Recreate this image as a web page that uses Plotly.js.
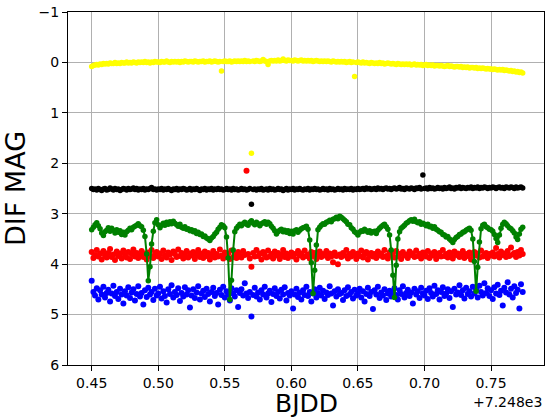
<!DOCTYPE html>
<html>
<head>
<meta charset="utf-8">
<script src="https://cdn.plot.ly/plotly-3.0.1.min.js"></script>
<style>html,body{margin:0;padding:0;background:#fff;}#chart{width:545px;height:417px;}</style>
</head>
<body>
<div id="chart"></div>
<script>
// BJDD minus offset (offset shown as +7.248e3)
const bjdOffsetLabel = "+7.248e3";
const xTitle = "BJDD";
const yTitle = "DIF MAG";
const bjdd = [
0.4500,0.4513,0.4525,0.4538,0.4550,0.4563,0.4575,0.4588,0.4600,0.4613,
0.4625,0.4638,0.4650,0.4663,0.4675,0.4688,0.4700,0.4713,0.4725,0.4738,
0.4750,0.4763,0.4775,0.4788,0.4800,0.4813,0.4825,0.4838,0.4850,0.4863,
0.4875,0.4888,0.4900,0.4913,0.4925,0.4938,0.4950,0.4963,0.4975,0.4988,
0.5000,0.5013,0.5025,0.5038,0.5050,0.5063,0.5075,0.5088,0.5100,0.5113,
0.5125,0.5138,0.5150,0.5163,0.5175,0.5188,0.5200,0.5213,0.5225,0.5238,
0.5250,0.5263,0.5275,0.5288,0.5300,0.5313,0.5325,0.5338,0.5350,0.5363,
0.5375,0.5388,0.5400,0.5413,0.5425,0.5438,0.5450,0.5463,0.5475,0.5488,
0.5500,0.5513,0.5525,0.5538,0.5550,0.5563,0.5575,0.5588,0.5600,0.5613,
0.5625,0.5638,0.5650,0.5663,0.5675,0.5688,0.5700,0.5713,0.5725,0.5738,
0.5750,0.5763,0.5775,0.5788,0.5800,0.5813,0.5825,0.5838,0.5850,0.5863,
0.5875,0.5888,0.5900,0.5913,0.5925,0.5938,0.5950,0.5963,0.5975,0.5988,
0.6000,0.6013,0.6025,0.6038,0.6050,0.6063,0.6075,0.6088,0.6100,0.6113,
0.6125,0.6138,0.6150,0.6163,0.6175,0.6188,0.6200,0.6213,0.6225,0.6238,
0.6250,0.6263,0.6275,0.6288,0.6300,0.6313,0.6325,0.6338,0.6350,0.6363,
0.6375,0.6388,0.6400,0.6413,0.6425,0.6438,0.6450,0.6463,0.6475,0.6488,
0.6500,0.6513,0.6525,0.6538,0.6550,0.6563,0.6575,0.6588,0.6600,0.6613,
0.6625,0.6638,0.6650,0.6663,0.6675,0.6688,0.6700,0.6713,0.6725,0.6738,
0.6750,0.6763,0.6775,0.6788,0.6800,0.6813,0.6825,0.6838,0.6850,0.6863,
0.6875,0.6888,0.6900,0.6913,0.6925,0.6938,0.6950,0.6963,0.6975,0.6988,
0.7000,0.7013,0.7025,0.7038,0.7050,0.7063,0.7075,0.7088,0.7100,0.7113,
0.7125,0.7138,0.7150,0.7163,0.7175,0.7188,0.7200,0.7213,0.7225,0.7238,
0.7250,0.7263,0.7275,0.7288,0.7300,0.7313,0.7325,0.7338,0.7350,0.7363,
0.7375,0.7388,0.7400,0.7413,0.7425,0.7438,0.7450,0.7463,0.7475,0.7488,
0.7500,0.7513,0.7525,0.7538,0.7550,0.7563,0.7575,0.7588,0.7600,0.7613,
0.7625,0.7638,0.7650,0.7663,0.7675,0.7688,0.7700,0.7713,0.7725,0.7738
];

const magYellow = [
0.08,0.06,0.05,0.04,0.05,0.03,0.04,0.02,0.03,0.02,
0.03,0.01,0.02,0.02,0.00,0.02,0.01,0.02,0.00,0.01,
0.01,-0.01,0.01,0.00,0.01,-0.01,0.00,0.01,-0.01,0.00,
-0.01,0.00,-0.02,0.00,-0.01,0.01,-0.01,0.00,-0.02,-0.01,
-0.01,0.00,-0.02,-0.01,-0.01,-0.03,-0.01,0.00,-0.02,-0.01,
-0.02,-0.01,-0.02,0.00,-0.02,-0.01,-0.03,-0.02,-0.01,-0.02,
-0.02,-0.01,-0.03,-0.02,-0.01,-0.02,-0.02,-0.03,-0.01,-0.02,
-0.02,-0.03,-0.01,-0.02,-0.03,-0.02,-0.01,-0.02,0.17,-0.02,
-0.03,-0.02,-0.02,-0.03,-0.01,-0.02,-0.03,-0.02,-0.03,-0.02,
-0.03,-0.02,-0.04,-0.02,-0.03,-0.02,1.80,-0.03,-0.02,-0.04,
-0.03,-0.02,-0.03,-0.06,-0.03,-0.02,0.04,-0.03,-0.04,-0.03,
-0.04,-0.03,-0.05,-0.03,-0.04,-0.07,-0.04,-0.03,-0.05,-0.04,
-0.04,-0.03,-0.05,-0.04,-0.03,-0.04,-0.05,-0.03,-0.04,-0.03,
-0.04,-0.03,-0.04,-0.02,-0.03,-0.04,-0.03,-0.02,-0.03,-0.02,
-0.03,-0.02,-0.03,-0.02,-0.01,-0.03,-0.02,-0.01,-0.02,-0.01,
-0.02,-0.01,-0.02,0.00,-0.01,-0.02,0.00,-0.01,0.28,0.00,
-0.01,0.00,0.01,-0.01,0.01,0.00,0.01,0.02,0.00,0.01,
0.02,0.01,0.02,0.00,0.02,0.01,0.03,0.02,0.01,0.02,
0.03,0.02,0.03,0.04,0.02,0.03,0.04,0.03,0.04,0.03,
0.04,0.03,0.05,0.04,0.03,0.05,0.04,0.05,0.04,0.06,
0.05,0.04,0.06,0.05,0.06,0.05,0.07,0.06,0.06,0.07,
0.06,0.07,0.08,0.07,0.06,0.08,0.07,0.08,0.09,0.08,
0.08,0.09,0.08,0.10,0.09,0.10,0.09,0.11,0.10,0.10,
0.11,0.10,0.12,0.11,0.12,0.11,0.12,0.13,0.12,0.13,
0.13,0.14,0.13,0.14,0.15,0.14,0.15,0.14,0.16,0.15,
0.16,0.17,0.16,0.18,0.17,0.19,0.18,0.20,0.19,0.21
];

const magBlack = [
2.50,2.52,2.51,2.53,2.50,2.52,2.54,2.51,2.50,2.53,
2.52,2.49,2.51,2.53,2.50,2.52,2.51,2.54,2.52,2.50,
2.51,2.53,2.50,2.52,2.51,2.49,2.52,2.50,2.53,2.51,
2.52,2.50,2.53,2.51,2.52,2.50,2.48,2.52,2.51,2.53,
2.51,2.52,2.50,2.53,2.51,2.52,2.50,2.52,2.54,2.51,
2.52,2.50,2.53,2.51,2.52,2.50,2.51,2.53,2.52,2.50,
2.53,2.51,2.52,2.50,2.52,2.54,2.51,2.52,2.50,2.53,
2.51,2.52,2.50,2.53,2.51,2.52,2.50,2.52,2.51,2.53,
2.52,2.50,2.52,2.51,2.53,2.50,2.52,2.51,2.53,2.52,
2.50,2.52,2.51,2.53,2.52,2.50,2.81,2.52,2.51,2.53,
2.51,2.52,2.50,2.53,2.52,2.51,2.53,2.50,2.52,2.51,
2.53,2.52,2.50,2.52,2.51,2.54,2.52,2.50,2.53,2.51,
2.52,2.50,2.53,2.51,2.52,2.50,2.52,2.53,2.51,2.52,
2.50,2.53,2.51,2.52,2.50,2.52,2.51,2.53,2.52,2.50,
2.52,2.51,2.53,2.50,2.52,2.51,2.53,2.52,2.50,2.52,
2.51,2.53,2.50,2.52,2.51,2.52,2.50,2.53,2.51,2.52,
2.50,2.52,2.51,2.50,2.52,2.49,2.51,2.50,2.52,2.51,
2.50,2.52,2.49,2.51,2.50,2.52,2.50,2.49,2.51,2.50,
2.52,2.50,2.49,2.51,2.50,2.48,2.51,2.50,2.52,2.49,
2.50,2.51,2.49,2.50,2.52,2.49,2.50,2.48,2.51,2.23,
2.50,2.49,2.51,2.48,2.50,2.49,2.51,2.50,2.48,2.50,
2.49,2.51,2.48,2.50,2.49,2.47,2.50,2.49,2.51,2.48,
2.49,2.47,2.50,2.48,2.49,2.50,2.48,2.49,2.47,2.50,
2.48,2.49,2.47,2.50,2.48,2.49,2.47,2.48,2.50,2.48,
2.49,2.47,2.48,2.50,2.48,2.47,2.49,2.48,2.50,2.47,
2.48,2.49,2.47,2.48,2.50,2.47,2.49,2.48,2.47,2.49
];

const magRed = [
3.76,3.88,3.82,3.72,3.85,3.79,3.91,3.74,3.83,3.87,
3.78,3.70,3.86,3.81,3.92,3.75,3.84,3.79,3.89,3.73,
3.82,3.87,3.76,3.90,3.80,3.71,3.85,3.78,3.88,3.83,
3.74,3.86,3.79,3.91,3.77,3.84,3.72,3.88,3.81,3.76,
3.85,3.79,3.90,3.73,3.83,3.87,3.77,3.81,3.92,3.75,
3.80,3.86,3.71,3.84,3.78,3.89,3.82,3.74,3.87,3.79,
3.83,3.76,3.90,3.81,3.72,3.86,3.79,3.88,3.75,3.84,
3.78,3.91,3.82,3.74,3.87,3.80,3.85,3.71,3.83,3.89,
3.77,3.84,3.79,3.90,3.73,3.86,3.81,3.88,3.76,3.83,
3.87,3.74,3.82,2.15,3.80,3.89,4.05,3.78,3.85,3.72,
3.84,3.79,3.91,3.76,3.82,3.87,3.73,3.85,3.80,3.89,
3.75,3.83,3.78,3.90,3.81,3.72,3.86,3.79,3.88,3.82,
3.77,3.85,3.80,3.91,3.74,3.83,3.79,3.87,3.73,3.84,
3.81,3.89,3.76,3.84,3.78,3.90,3.82,3.75,3.86,3.80,
3.83,3.74,3.88,3.79,3.85,3.96,3.77,3.84,4.00,3.81,
3.86,3.78,3.83,3.72,3.89,3.80,3.85,3.76,3.82,3.90,
3.79,3.84,3.73,3.87,3.81,3.76,3.91,3.83,3.78,3.85,
3.80,3.88,3.75,3.83,3.79,3.86,3.72,3.84,3.89,3.77,
3.82,3.78,3.87,3.74,3.85,3.80,3.90,3.76,3.83,3.81,
3.88,3.75,3.82,3.79,3.86,3.73,3.84,3.80,3.89,3.77,
3.81,3.85,3.74,3.88,3.79,3.83,3.76,3.90,3.82,3.78,
3.85,3.72,3.84,3.80,3.87,3.77,3.83,3.89,3.75,3.82,
3.79,3.86,3.81,3.74,3.88,3.80,3.84,3.77,3.91,3.82,
3.76,3.83,3.79,3.87,3.73,3.85,3.81,3.78,3.88,3.80,
3.83,3.77,3.85,3.68,3.80,3.87,3.75,3.82,3.79,3.86,
3.74,3.84,3.67,3.81,3.78,3.86,3.76,3.83,3.72,3.80
];

const magBlue = [
4.33,4.55,4.62,4.48,4.70,4.52,4.60,4.45,4.66,4.57,
4.51,4.74,4.58,4.43,4.63,4.55,4.69,4.49,4.60,4.78,
4.54,4.62,4.46,4.67,4.56,4.50,4.72,4.59,4.44,4.64,
4.57,4.80,4.52,4.65,4.47,4.60,4.55,4.71,4.49,4.62,
4.58,4.45,4.68,4.54,4.63,4.76,4.50,4.59,4.42,4.66,
4.55,4.61,4.48,4.73,4.57,4.64,4.46,4.60,4.52,4.86,
4.62,4.50,4.67,4.56,4.44,4.70,4.58,4.53,4.65,4.49,
4.59,4.74,4.55,4.47,4.63,4.57,4.80,4.51,4.61,4.45,
4.66,4.54,4.60,4.72,4.48,4.58,4.64,4.52,4.85,4.57,
4.50,4.62,4.38,4.58,4.67,4.55,5.04,4.61,4.47,4.64,
4.56,4.70,4.52,4.60,4.45,4.66,4.58,4.53,4.75,4.59,
4.48,4.63,4.55,4.68,4.51,4.60,4.46,4.72,4.57,4.62,
4.54,4.88,4.60,4.49,4.65,4.56,4.70,4.52,4.61,4.45,
4.63,4.55,4.74,4.58,4.50,4.66,4.57,4.47,4.62,4.53,
4.69,4.56,4.61,4.44,4.58,4.82,4.54,4.64,4.50,4.59,
4.57,4.71,4.52,4.63,4.46,4.60,4.55,4.68,4.51,4.62,
4.58,4.49,4.66,4.54,4.74,4.59,4.47,4.63,4.55,4.89,
4.52,4.60,4.45,4.67,4.56,4.62,4.50,4.71,4.58,4.53,
4.64,4.55,4.48,4.61,4.70,4.52,4.59,4.44,4.66,4.57,
4.51,4.63,4.56,4.78,4.49,4.60,4.54,4.67,4.47,4.58,
4.62,4.53,4.69,4.48,4.57,4.64,4.43,4.59,4.52,4.70,
4.55,4.46,4.63,4.58,4.50,4.67,4.54,4.85,4.49,4.60,
4.56,4.42,4.61,4.52,4.68,4.47,4.59,4.54,4.64,4.45,
4.58,4.50,4.66,4.43,4.55,4.62,4.38,4.57,4.48,4.63,
4.52,4.69,4.46,4.58,4.41,4.61,4.53,4.82,4.47,4.56,
4.36,4.60,4.49,4.66,4.44,4.57,4.51,4.88,4.40,4.55
];

const magGreen = [
3.32,3.27,3.22,3.18,3.24,3.30,3.38,3.43,3.36,3.33,
3.28,3.35,3.29,3.33,3.38,3.32,3.37,3.34,3.41,3.37,
3.42,3.36,3.33,3.29,3.32,3.27,3.25,3.23,3.20,3.24,
3.26,3.33,3.45,3.80,4.33,4.05,3.60,3.35,3.18,3.12,
3.22,3.28,3.23,3.19,3.23,3.17,3.21,3.16,3.20,3.15,
3.19,3.22,3.25,3.21,3.27,3.29,3.26,3.31,3.30,3.34,
3.32,3.36,3.34,3.39,3.37,3.41,3.40,3.45,3.44,3.48,
3.50,3.53,3.48,3.45,3.40,3.37,3.31,3.27,3.22,3.24,
3.28,3.46,3.88,4.70,4.32,3.72,3.36,3.29,3.25,3.21,
3.24,3.20,3.17,3.21,3.23,3.17,3.14,3.19,3.22,3.17,
3.20,3.24,3.20,3.18,3.16,3.21,3.17,3.20,3.25,3.29,
3.34,3.40,3.36,3.33,3.31,3.36,3.33,3.37,3.34,3.39,
3.35,3.40,3.34,3.32,3.37,3.33,3.30,3.28,3.27,3.25,
3.31,3.52,3.97,4.58,4.12,3.62,3.32,3.27,3.23,3.20,
3.21,3.17,3.16,3.13,3.16,3.11,3.10,3.07,3.10,3.05,
3.07,3.10,3.13,3.16,3.21,3.22,3.28,3.31,3.36,3.38,
3.42,3.37,3.34,3.35,3.31,3.34,3.37,3.34,3.38,3.36,
3.35,3.39,3.33,3.29,3.26,3.23,3.21,3.26,3.31,3.42,
3.72,4.22,4.66,4.02,3.50,3.36,3.29,3.26,3.23,3.19,
3.17,3.14,3.12,3.15,3.11,3.16,3.18,3.16,3.21,3.19,
3.21,3.24,3.21,3.26,3.25,3.29,3.26,3.31,3.33,3.36,
3.37,3.41,3.42,3.46,3.45,3.50,3.53,3.57,3.51,3.47,
3.45,3.41,3.40,3.37,3.36,3.33,3.31,3.29,3.33,3.50,
3.95,4.54,4.06,3.56,3.30,3.23,3.21,3.26,3.28,3.31,
3.32,3.35,3.41,3.49,3.57,3.42,3.29,3.21,3.17,3.20,
3.24,3.28,3.30,3.34,3.38,3.46,3.51,3.40,3.31,3.27
];

const xTickVals = [0.45, 0.50, 0.55, 0.60, 0.65, 0.70, 0.75];
const xTickText = ["0.45", "0.50", "0.55", "0.60", "0.65", "0.70", "0.75"];
const yTickVals = [-1, 0, 1, 2, 3, 4, 5, 6];
const yTickText = ["\u22121", "0", "1", "2", "3", "4", "5", "6"];

const FONT = "DejaVu Sans, sans-serif";

function pts(y, color, size) {
  return {
    x: bjdd, y: y, type: "scatter", mode: "markers",
    marker: {color: color, size: size, line: {width: 0}},
    hoverinfo: "skip", showlegend: false
  };
}

const traces = [
  pts(magYellow, "#ffff00", 5.5),
  pts(magBlack, "#000000", 5.5),
  pts(magRed, "#ff0000", 6),
  pts(magBlue, "#0000ff", 6),
  {
    x: bjdd, y: magGreen, type: "scatter", mode: "lines+markers",
    line: {color: "#008000", width: 2},
    marker: {color: "#008000", size: 5.5, line: {width: 0}},
    hoverinfo: "skip", showlegend: false
  }
];

const axisCommon = {
  showgrid: true, gridcolor: "#b0b0b0", gridwidth: 1,
  showline: true, linecolor: "#000000", linewidth: 1, mirror: true,
  ticks: "outside", ticklen: 5, tickwidth: 1, tickcolor: "#000000",
  tickfont: {family: FONT, size: 14, color: "#000000"},
  zeroline: false, automargin: false
};

const layout = {
  width: 545, height: 417,
  margin: {l: 68, r: 1, t: 12, b: 52},
  paper_bgcolor: "#ffffff", plot_bgcolor: "#ffffff",
  showlegend: false,
  font: {family: FONT, color: "#000000"},
  xaxis: Object.assign({}, axisCommon, {
    range: [0.4322, 0.7898],
    tickmode: "array", tickvals: xTickVals, ticktext: xTickText
  }),
  yaxis: Object.assign({}, axisCommon, {
    range: [6, -1],
    tickmode: "array", tickvals: yTickVals, ticktext: yTickText,
    title: {text: yTitle, font: {family: FONT, size: 27, color: "#000000"}, standoff: 10}
  }),
  annotations: [
    {
      text: xTitle, xref: "paper", yref: "paper",
      x: 0.5, y: -0.109, xanchor: "center", yanchor: "middle",
      showarrow: false, font: {family: FONT, size: 25, color: "#000000"}
    },
    {
      text: bjdOffsetLabel, xref: "paper", yref: "paper",
      x: 1, y: -0.104, xanchor: "right", yanchor: "middle",
      showarrow: false, font: {family: FONT, size: 14, color: "#000000"}
    }
  ]
};

Plotly.newPlot("chart", traces, layout, {displayModeBar: false, staticPlot: true});
</script>
</body>
</html>
